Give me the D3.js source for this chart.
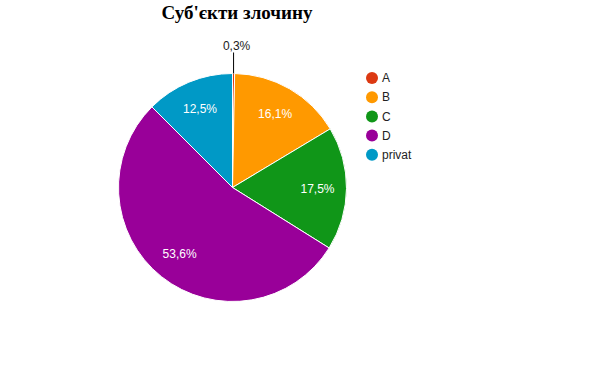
<!DOCTYPE html>
<html>
<head>
<meta charset="utf-8">
<script src="https://cdn.jsdelivr.net/npm/d3@7"></script>
<style>
  body { margin: 0; background: #fff; }
  svg { display: block; }
</style>
</head>
<body>
<svg id="chart" width="604" height="375"></svg>
<script>
// slice categories, shares (%) and colours
const categories = ['A', 'B', 'C', 'D', 'privat'];
const shares = [0.3, 16.1, 17.5, 53.6, 12.5];
const colors = ['#dc3912', '#ff9900', '#109618', '#990099', '#0099c6'];
const title = 'Суб\'єкти злочину';

const width = 604;
const height = 375;
const cx = 232.5;
const cy = 187.5;
const radius = 114;

const fmt = (v) => `${v.toFixed(1).replace('.', ',')}%`;

const svg = d3.select('#chart');

svg.append('text')
    .attr('x', 237)
    .attr('y', 19)
    .attr('text-anchor', 'middle')
    .attr('font-family', '"Liberation Serif", "Times New Roman", serif')
    .attr('font-weight', 'bold')
    .attr('font-size', 19)
    .text(title);

const data = categories.map((c, i) => ({name: c, value: shares[i], color: colors[i]}));

const pie = d3.pie()
    .sort(null)
    .value((d) => d.value);
const arcs = pie(data);

const arc = d3.arc().innerRadius(0).outerRadius(radius);
const labelArc = d3.arc().innerRadius(85).outerRadius(85);

const g = svg.append('g')
    .attr('transform', `translate(${cx},${cy})`);

g.selectAll('path')
    .data(arcs)
    .join('path')
    .attr('d', arc)
    .attr('fill', (d) => d.data.color)
    .attr('stroke', '#fff')
    .attr('stroke-width', 1);

// labels inside the bigger slices
g.selectAll('text.inside')
    .data(arcs.filter((d) => d.data.value > 5))
    .join('text')
    .attr('class', 'inside')
    .attr('transform', (d) => `translate(${labelArc.centroid(d)})`)
    .attr('dy', '0.35em')
    .attr('text-anchor', 'middle')
    .attr('font-family', 'Arial, "Liberation Sans", sans-serif')
    .attr('font-size', 12)
    .attr('fill', '#fff')
    .text((d) => fmt(d.data.value));

// small slice: label outside with a leader line
arcs.filter((d) => d.data.value <= 5).forEach((d) => {
  const mid = (d.startAngle + d.endAngle) / 2;
  const x = Math.sin(mid) * radius;
  const y = -Math.cos(mid) * radius;
  g.append('line')
      .attr('x1', x)
      .attr('y1', y)
      .attr('x2', x)
      .attr('y2', y - 21)
      .attr('stroke', '#000')
      .attr('stroke-width', 1);
  g.append('text')
      .attr('x', x + 3)
      .attr('y', y - 24)
      .attr('text-anchor', 'middle')
      .attr('font-family', 'Arial, "Liberation Sans", sans-serif')
      .attr('font-size', 12)
      .attr('fill', '#222')
      .text(fmt(d.data.value));
});

// legend
const legend = svg.append('g')
    .attr('transform', 'translate(372,78)');

const item = legend.selectAll('g')
    .data(data)
    .join('g')
    .attr('transform', (d, i) => `translate(0,${i * 19.2})`);

item.append('circle')
    .attr('r', 6)
    .attr('fill', (d) => d.color);

item.append('text')
    .attr('x', 10)
    .attr('dy', '0.35em')
    .attr('font-family', 'Arial, "Liberation Sans", sans-serif')
    .attr('font-size', 12)
    .attr('fill', '#222')
    .text((d) => d.name);
</script>
</body>
</html>
